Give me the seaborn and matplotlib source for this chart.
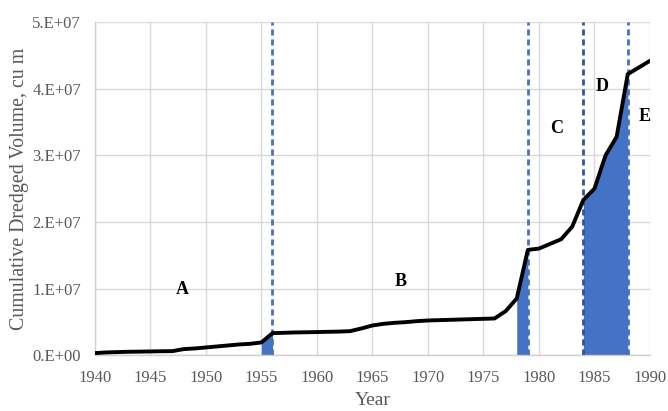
import numpy as np
import pandas as pd
import matplotlib
matplotlib.use("Agg")
import matplotlib.pyplot as plt
import seaborn as sns

# Cumulative dredged volume by year (cubic metres)
years = list(range(1940, 1991))
volume_e7 = [
    0.03, 0.04, 0.045, 0.05, 0.052, 0.055, 0.058, 0.06, 0.09, 0.10,
    0.115, 0.13, 0.145, 0.16, 0.17, 0.19, 0.33, 0.335, 0.34, 0.343,
    0.346, 0.35, 0.353, 0.36, 0.40, 0.445, 0.47, 0.485, 0.495, 0.51,
    0.52, 0.525, 0.53, 0.535, 0.54, 0.545, 0.55, 0.66, 0.85, 1.58,
    1.60, 1.67, 1.74, 1.93, 2.33, 2.50, 3.00, 3.28, 4.22, 4.32,
    4.42,
]
volume = [v * 1e7 for v in volume_e7]

# Period boundaries (dashed lines) and shaded dredging intervals
boundaries = [1956, 1979, 1984, 1988]
shaded = [(1955, 1956), (1978, 1979), (1984, 1988)]

# Period labels
period_names = ["A", "B", "C", "D", "E"]
period_x = [1947.9, 1967.5, 1981.6, 1985.7, 1989.5]
period_y = [0.98e7, 1.10e7, 3.40e7, 4.04e7, 3.59e7]

df = pd.DataFrame({"Year": years, "Volume": volume})

sns.set_theme(style="whitegrid")
plt.rcParams["font.family"] = ["Liberation Serif", "DejaVu Serif"]

fig = plt.figure(figsize=(6.68, 4.11), dpi=100)
ax = fig.add_axes([0.142, 0.136, 0.831, 0.810])

blue = "#4472C4"
yr = np.array(years, dtype=float)
vol = np.array(volume)
for a, b in shaded:
    m = (yr >= a) & (yr <= b)
    ax.fill_between(yr[m], 0, vol[m], color=blue, lw=0, zorder=2)

for bx in boundaries:
    ax.axvline(bx, color="#2F5597" if bx == 1984 else blue, lw=2.0,
               ls=(0, (2.2, 1.4)), zorder=3)

sns.lineplot(data=df, x="Year", y="Volume", color="black", lw=2.8,
             ax=ax, zorder=4)

for name, x, y in zip(period_names, period_x, period_y):
    ax.text(x, y, name, ha="center", va="center", fontsize=13,
            fontweight="bold", color="black", zorder=5)

ax.set_xlim(1940, 1990)
ax.set_ylim(0, 5e7)
ax.set_xticks(range(1940, 1991, 5))
ax.set_yticks([0, 1e7, 2e7, 3e7, 4e7, 5e7])
ax.set_yticklabels(["0.E+00", "1.E+07", "2.E+07", "3.E+07", "4.E+07", "5.E+07"])
ax.tick_params(axis="both", labelsize=12, labelcolor="#595959", length=0)
ax.tick_params(axis="x", pad=11)
ax.tick_params(axis="y", pad=10)
ax.grid(True, color="#d9d9d9", lw=1.0)
for side in ["top", "right"]:
    ax.spines[side].set_visible(False)
for side in ["left", "bottom"]:
    ax.spines[side].set_color("#d0d0d0")
    ax.spines[side].set_linewidth(1.0)

ax.set_xlabel("Year", fontsize=14, color="#595959", labelpad=4)
ax.set_ylabel("Cumulative Dredged Volume, cu m", fontsize=14.3,
              color="#595959", labelpad=2)

fig.savefig("out.png", dpi=100)
